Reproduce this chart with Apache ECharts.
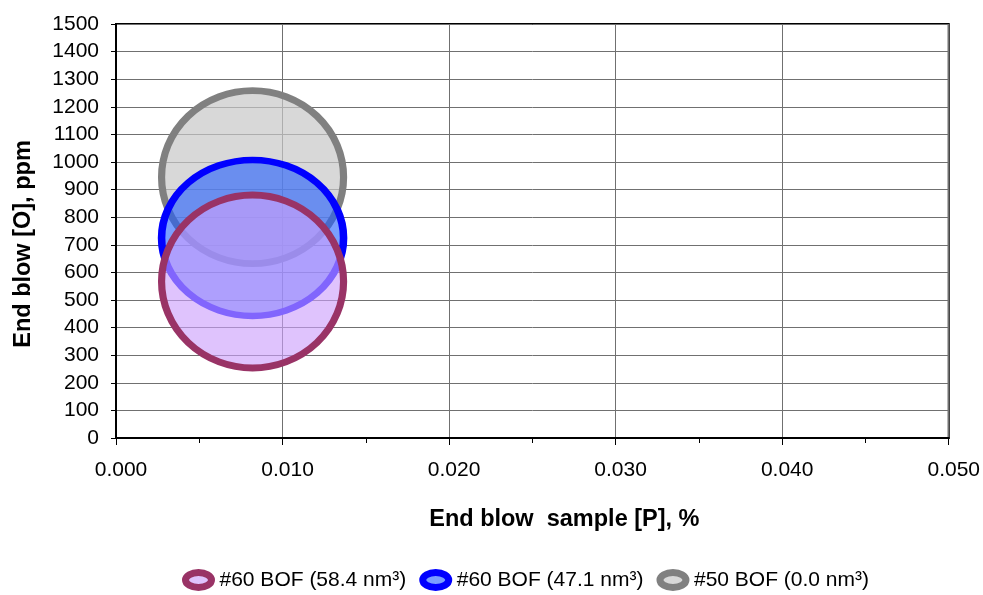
<!DOCTYPE html>
<html>
<head>
<meta charset="utf-8">
<title>End blow [O] vs [P]</title>
<script src="https://cdn.jsdelivr.net/npm/echarts@6/dist/echarts.min.js"></script>
<style>
  html, body { margin: 0; padding: 0; background: #fff; }
  #chart { width: 983px; height: 595px; }
</style>
</head>
<body>
<div id="chart"></div>
<script>
// Heats: end blow phosphorus (%) and oxygen (ppm)
const heatNames = ['#60 BOF (58.4 nm³)', '#60 BOF (47.1 nm³)', '#50 BOF (0.0 nm³)'];
const phosphorusPct = [0.0082, 0.0082, 0.0082];
const oxygenPpm = [567, 725, 945];

// Axis ranges
const xRange = [0, 0.05];
const xStep = 0.01;
const yRange = [0, 1500];
const yStep = 100;

const FONT = "'Liberation Sans', Arial, Helvetica, sans-serif";

// Drawing styles per heat (stroke, translucent fill, bubble size, stacking)
const heatStyles = [
  { stroke: '#993366', fill: 'rgba(204,160,252,0.63)', size: [182, 173], z: 4 },
  { stroke: '#0000ff', fill: 'rgba(34,94,255,0.6)',   size: [182, 156], z: 3 },
  { stroke: '#808080', fill: 'rgba(200,200,200,0.7)', size: [182, 173], z: 2 }
];

const series = heatNames.map((name, i) => ({
  name: name,
  type: 'scatter',
  z: heatStyles[i].z,
  symbol: 'circle',
  symbolSize: heatStyles[i].size,
  data: [[phosphorusPct[i], oxygenPpm[i]]],
  itemStyle: {
    color: heatStyles[i].fill,
    borderColor: heatStyles[i].stroke,
    borderWidth: 7,
    opacity: 1
  },
  emphasis: { disabled: true },
  clip: false
}));

const chart = echarts.init(document.getElementById('chart'), null, { renderer: 'canvas' });

chart.setOption({
  animation: false,
  backgroundColor: '#ffffff',
  textStyle: { fontFamily: FONT, color: '#000' },
  grid: {
    left: 116, right: 34, top: 24, bottom: 157,
    show: true, borderColor: '#000', borderWidth: 2
  },
  xAxis: {
    type: 'value',
    min: xRange[0], max: xRange[1], interval: xStep,
    name: 'End blow  sample [P], %',
    nameLocation: 'middle',
    nameGap: 70,
    nameTextStyle: { fontFamily: FONT, fontSize: 23.5, fontWeight: 'bold', color: '#000', padding: [0, 0, 0, 64] },
    axisLine: { show: true, onZero: false, lineStyle: { color: '#000', width: 2 } },
    axisTick: { show: true, length: 7, lineStyle: { color: '#000', width: 1 } },
    minorTick: { show: true, splitNumber: 2, length: 5, lineStyle: { color: '#000', width: 1 } },
    axisLabel: {
      fontFamily: FONT, fontSize: 21, color: '#000', margin: 22,
      padding: [0, 0, 0, 10],
      formatter: v => v.toFixed(3)
    },
    splitLine: { show: true, lineStyle: { color: '#707070', width: 1 } },
    minorSplitLine: { show: false }
  },
  yAxis: {
    type: 'value',
    min: yRange[0], max: yRange[1], interval: yStep,
    name: 'End blow [O], ppm',
    nameLocation: 'middle',
    nameGap: 80,
    nameTextStyle: { fontFamily: FONT, fontSize: 23.5, fontWeight: 'bold', color: '#000', padding: [0, 26, 0, 0] },
    axisLine: { show: true, onZero: false, lineStyle: { color: '#000', width: 2 } },
    axisTick: { show: true, length: 5, lineStyle: { color: '#000', width: 1 } },
    axisLabel: { fontFamily: FONT, fontSize: 21, color: '#000', margin: 17, formatter: v => String(v) },
    splitLine: { show: true, lineStyle: { color: '#707070', width: 1 } }
  },
  legend: {
    data: heatNames,
    left: 177,
    top: 564,
    orient: 'horizontal',
    itemWidth: 32,
    itemHeight: 15,
    itemGap: 13,
    icon: 'path://M0,7.5 A13,7.5 0 1,1 26,7.5 A13,7.5 0 1,1 0,7.5 Z',
    itemStyle: { borderWidth: 7 },
    textStyle: { fontFamily: FONT, fontSize: 21, color: '#000' },
    selectedMode: false
  },
  series: series
});
</script>
</body>
</html>
